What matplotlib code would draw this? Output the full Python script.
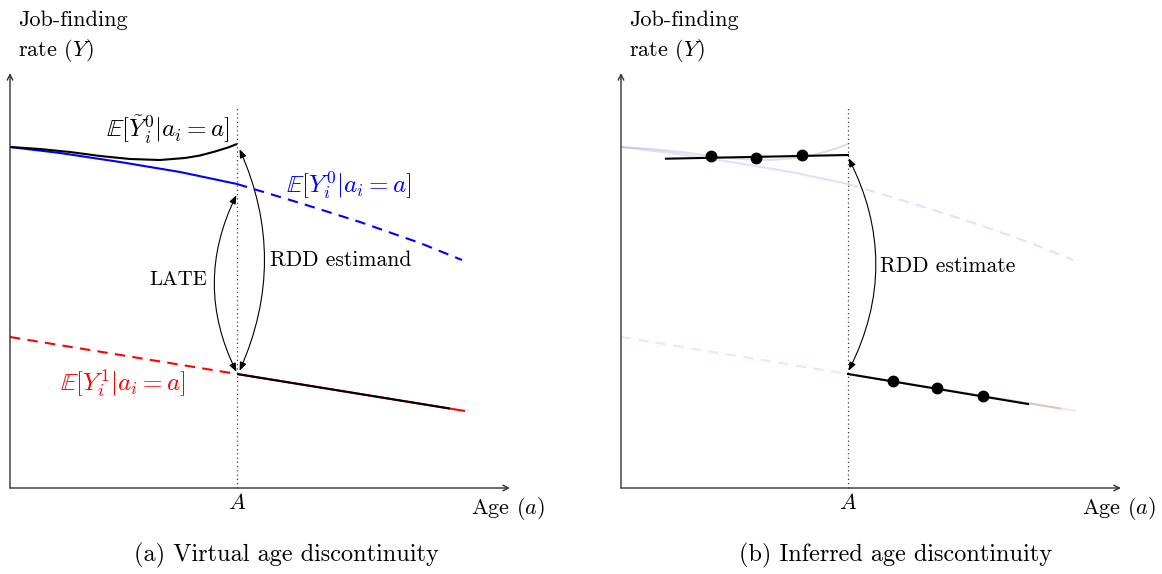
"""
Sketch of the age-discontinuity figure: (a) virtual vs (b) inferred RDD.
Units are arbitrary: x is age, y is job-finding rate, axis origin at (0, 0).
"""
import matplotlib
matplotlib.use("Agg")
import matplotlib.pyplot as plt
from matplotlib.patches import FancyArrowPatch

plt.rcParams["font.family"] = ["cmr10", "DejaVu Serif"]
plt.rcParams["mathtext.fontset"] = "cm"
plt.rcParams["axes.unicode_minus"] = False

# ---- data -------------------------------------------------------------
A = 2.27                      # age cutoff
X_END, Y_END = 5.0, 4.15      # axis arrow tips

# E[Y^0] : solid left of cutoff, dashed right of it
y0_solid_x = [0.0, 0.5, 1.1, 1.7, 2.27]
y0_solid_y = [3.41, 3.35, 3.26, 3.16, 3.04]
y0_dash_x = [2.27, 2.90, 3.50, 4.10, 4.52]
y0_dash_y = [3.04, 2.85, 2.66, 2.45, 2.28]

# E[tilde Y^0] : virtual counterfactual, bends up towards the cutoff
yt_x = [0.0, 0.3, 0.6, 0.9, 1.2, 1.5, 1.75, 1.9, 2.05, 2.18, 2.27]
yt_y = [3.41, 3.39, 3.36, 3.32, 3.29, 3.28, 3.30, 3.325, 3.365, 3.405, 3.44]

# E[Y^1] : dashed left of cutoff, solid right of it
y1_dash_x = [0.0, 2.27]
y1_dash_y = [1.51, 1.14]
y1_solid_x = [2.27, 4.55]
y1_solid_y = [1.14, 0.77]
obs_right_x = [2.27, 4.40]          # observed (black) part of E[Y^1]
obs_right_y = [1.14, 0.794]

# panel (b): local fits and binned means
fit_left_x = [0.45, 2.27]
fit_left_y = [3.293, 3.33]
bins_left_x = [0.90, 1.35, 1.81]
bins_left_y = [3.32, 3.30, 3.33]
fit_right_x = [2.27, 4.07]
fit_right_y = [1.14, 0.84]
bins_right_x = [2.72, 3.16, 3.62]
bins_right_y = [1.07, 1.00, 0.92]

W, H = 1162, 574
fig = plt.figure(figsize=(W / 100, H / 100), dpi=100)

TXT = 15.5     # body text
MATH = 18      # curve labels
CAP = 17.5     # sub-captions


def panel(x0_px):
    """Transparent full-figure axes whose origin sits at pixel (x0_px, 488)."""
    ax = fig.add_axes([0, 0, 1, 1])
    ax.set_xlim(-x0_px / 100, (W - x0_px) / 100)
    ax.set_ylim(-(H - 488) / 100, 488 / 100)
    ax.axis("off")
    ax.patch.set_alpha(0)
    ax.annotate("", xy=(X_END, 0), xytext=(0, 0),
                arrowprops=dict(arrowstyle="->", lw=1.0, color="0.2",
                                shrinkA=0, shrinkB=0))
    ax.annotate("", xy=(0, Y_END), xytext=(0, 0),
                arrowprops=dict(arrowstyle="->", lw=1.0, color="0.2",
                                shrinkA=0, shrinkB=0))
    ax.plot([A, A], [0, 3.80], color="0.25", lw=0.9, ls=(0, (1, 2.4)))
    ax.text(0.08, 4.68, "Job-finding", fontsize=16, va="center")
    ax.text(0.08, 4.38, "rate ($Y$)", fontsize=16, va="center")
    ax.text(A, -0.15, "$A$", fontsize=16, ha="center", va="center")
    ax.text(4.98, -0.20, "Age ($a$)", fontsize=16, ha="center", va="center")
    return ax


def curves(ax, alpha=1.0):
    kw = dict(lw=1.5, alpha=alpha, solid_capstyle="butt")
    ax.plot(y1_dash_x, y1_dash_y, color="red", dashes=(5, 3.5), **kw)
    ax.plot(y1_solid_x, y1_solid_y, color="red", **kw)
    ax.plot(obs_right_x, obs_right_y, color="black", **kw)
    ax.plot(y0_solid_x, y0_solid_y, color="blue", **kw)
    ax.plot(y0_dash_x, y0_dash_y, color="blue", dashes=(5, 3.5), **kw)
    ax.plot(yt_x, yt_y, color="black", **kw)


def bend_arrow(ax, p0, p1, rad):
    ax.add_patch(FancyArrowPatch(
        p0, p1, connectionstyle=f"arc3,rad={rad}",
        arrowstyle="<|-|>,head_length=5,head_width=2",
        lw=0.8, color="black", shrinkA=1, shrinkB=1))


# ---- (a) virtual age discontinuity ------------------------------------
axL = panel(10)
curves(axL)
axL.text(1.58, 3.58, r"$\mathbb{E}[\tilde{Y}_i^0|a_i=a]$", fontsize=MATH,
         ha="center", va="center")
axL.text(3.39, 3.02, r"$\mathbb{E}[Y_i^0|a_i=a]$", fontsize=MATH, color="blue",
         ha="center", va="center")
axL.text(1.13, 1.04, r"$\mathbb{E}[Y_i^1|a_i=a]$", fontsize=MATH, color="red",
         ha="center", va="center")
bend_arrow(axL, (A, 1.15), (A, 2.94), -0.25)
bend_arrow(axL, (A + 0.02, 1.16), (A + 0.02, 3.40), 0.225)
axL.text(1.68, 2.08, "LATE", fontsize=15, ha="center", va="center")
axL.text(3.31, 2.28, "RDD estimand", fontsize=TXT, ha="center", va="center")
axL.text(2.76, -0.67, "(a) Virtual age discontinuity", fontsize=CAP,
         ha="center", va="center")

# ---- (b) inferred age discontinuity -----------------------------------
axR = panel(621)
curves(axR, alpha=0.12)
axR.plot(fit_left_x, fit_left_y, color="black", lw=1.5)
axR.plot(fit_right_x, fit_right_y, color="black", lw=1.5)
axR.plot(bins_left_x, bins_left_y, "o", color="black", ms=7.5)
axR.plot(bins_right_x, bins_right_y, "o", color="black", ms=7.5)
bend_arrow(axR, (A, 1.16), (A, 3.31), 0.256)
axR.text(3.27, 2.22, "RDD estimate", fontsize=TXT, ha="center", va="center")
axR.text(2.75, -0.67, "(b) Inferred age discontinuity", fontsize=CAP,
         ha="center", va="center")

fig.savefig("out.png", dpi=100)
